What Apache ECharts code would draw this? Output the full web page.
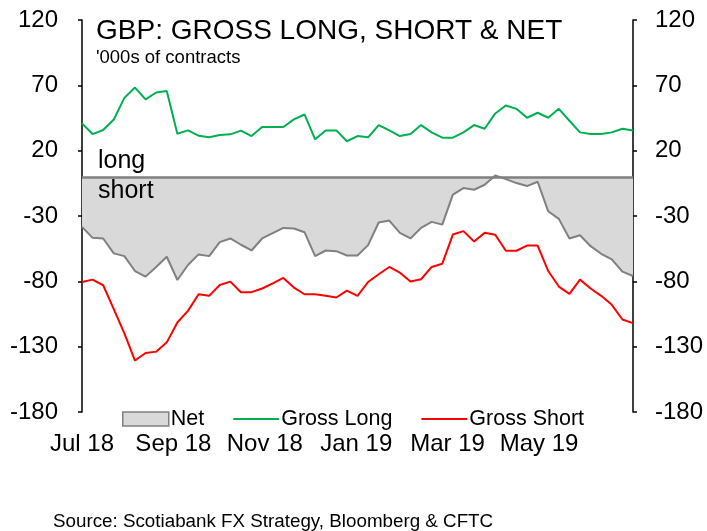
<!DOCTYPE html>
<html>
<head>
<meta charset="utf-8">
<script src="https://cdn.jsdelivr.net/npm/echarts@6/dist/echarts.min.js"></script>
<style>
  html, body { margin: 0; padding: 0; background: #fff; }
  #chart { width: 707px; height: 531px; }
</style>
</head>
<body>
<div id="chart"></div>
<script>
// weekly CFTC positioning, '000s of contracts (Jul 2018 - Jul 2019)
const netPos = [-38.3, -46.7, -47.2, -58.6, -60.7, -72.1, -76.4, -69.1, -61.2, -79.0, -67.5, -59.4, -60.7,
  -50.0, -47.2, -52.0, -56.4, -47.2, -43.1, -39.1, -39.6, -42.4, -60.7, -56.4, -56.9, -60.2, -60.2,
  -52.3, -35.0, -33.5, -42.9, -47.2, -39.1, -34.5, -36.6, -13.7, -8.6, -9.9, -6.1, 1.0,
  -1.8, -4.8, -7.1, -3.8, -26.4, -32.2, -47.2, -44.7, -53.1, -58.9, -63.2, -72.6, -75.9]
const grossLong = [40.9, 32.7, 35.8, 43.9, 60.4, 68.3, 59.2, 64.5, 65.7, 33.0, 35.5, 31.5, 30.2,
  32.0, 32.5, 35.3, 31.2, 38.1, 38.1, 38.1, 43.9, 47.7, 28.7, 35.5, 35.5, 27.2, 31.2,
  30.2, 39.6, 35.5, 31.2, 32.7, 39.6, 34.0, 29.9, 29.9, 34.0, 39.6, 36.8, 48.5,
  54.6, 52.0, 45.2, 49.0, 45.2, 52.0, 42.9, 34.0, 32.7, 32.7, 34.0, 36.8, 35.5]
const grossShort = [-80.5, -78.7, -83.0, -101.3, -119.8, -140.6, -134.8, -133.8, -126.7, -111.5, -102.6, -89.9, -91.1,
  -82.8, -80.2, -88.3, -88.3, -85.5, -81.5, -77.4, -84.8, -89.9, -89.9, -91.1, -92.4, -87.1, -91.1,
  -80.5, -74.6, -69.0, -73.4, -80.2, -78.4, -69.0, -66.5, -44.2, -41.6, -49.5, -42.9, -44.4,
  -56.6, -56.6, -52.6, -52.6, -72.1, -84.0, -89.6, -78.7, -85.5, -91.1, -98.0, -109.2, -112.0]

// x labels every 2 months (~8.63 weeks apart)
const monthLabels = ['Jul 18', 'Sep 18', 'Nov 18', 'Jan 19', 'Mar 19', 'May 19']
const weeksPerLabel = 8.626
const yTicks = [-180, -130, -80, -30, 20, 70, 120]

const toPairs = arr => arr.map((v, i) => [i, v])

const FONT = 'Liberation Sans, Arial, sans-serif'
const LINE_ICON = 'path://M0,0L46,0L46,2L0,2Z'
const chart = echarts.init(document.getElementById('chart'))

const yAxisBase = {
  type: 'value',
  min: -180,
  max: 120,
  axisLine: { show: true, lineStyle: { color: '#000', width: 1.5 } },
  axisTick: { show: true, inside: false, length: 4, customValues: yTicks, lineStyle: { color: '#000', width: 1.5 } },
  splitLine: { show: false },
  axisLabel: { customValues: yTicks, color: '#000', fontSize: 24, fontFamily: FONT }
}

chart.setOption({
  animation: false,
  backgroundColor: '#fff',
  grid: { left: 82, right: 74, top: 20, bottom: 119 },
  legend: {
    left: 117,
    top: 403,
    itemWidth: 46,
    itemHeight: 14,
    itemGap: 29,
    symbolKeepAspect: true,
    textStyle: { color: '#000', fontSize: 21.5, fontFamily: FONT, padding: [0, 0, 0, -3] },
    data: [
      { name: 'Net', icon: 'rect', itemStyle: { color: '#d9d9d9', borderColor: '#808080', borderWidth: 1.5 } },
      { name: 'Gross Long', icon: LINE_ICON, itemStyle: { color: '#00b050', borderWidth: 0 } },
      { name: 'Gross Short', icon: LINE_ICON, itemStyle: { color: '#ff0000', borderWidth: 0 } }
    ]
  },
  xAxis: {
    type: 'value',
    min: 0,
    max: 52,
    interval: weeksPerLabel,
    axisLine: { show: false, onZero: false },
    axisTick: { show: false },
    splitLine: { show: false },
    axisLabel: {
      margin: 20,
      color: '#000',
      fontSize: 24,
      fontFamily: FONT,
      showMaxLabel: false,
      formatter: v => monthLabels[Math.round(v / weeksPerLabel)] || ''
    }
  },
  yAxis: [
    Object.assign({}, yAxisBase, { position: 'left', axisLabel: Object.assign({}, yAxisBase.axisLabel, { margin: 24 }) }),
    Object.assign({}, yAxisBase, { position: 'right', axisLabel: Object.assign({}, yAxisBase.axisLabel, { margin: 22 }) })
  ],
  graphic: [
    { type: 'text', z: 100, left: 96, top: 17, style: { text: 'GBP: GROSS LONG, SHORT & NET', fontSize: 28, fontFamily: FONT, fill: '#000' } },
    { type: 'text', z: 100, left: 96, top: 48, style: { text: "'000s of contracts", fontSize: 18.5, fontFamily: FONT, fill: '#000' } },
    { type: 'text', z: 100, left: 98, top: 149, style: { text: 'long', fontSize: 25, fontFamily: FONT, fill: '#000' } },
    { type: 'text', z: 100, left: 98, top: 179, style: { text: 'short', fontSize: 25, fontFamily: FONT, fill: '#000' } },
    { type: 'text', z: 100, left: 53, top: 512, style: { text: 'Source: Scotiabank FX Strategy, Bloomberg & CFTC', fontSize: 18.8, fontFamily: FONT, fill: '#000' } }
  ],
  series: [
    {
      name: 'Net',
      type: 'line',
      data: toPairs(netPos),
      symbol: 'none',
      lineStyle: { color: '#808080', width: 2 },
      itemStyle: { color: '#d9d9d9' },
      areaStyle: { color: '#d9d9d9', opacity: 1, origin: 0 },
      markLine: {
        silent: true,
        symbol: 'none',
        label: { show: false },
        lineStyle: { color: '#808080', width: 2.5, type: 'solid' },
        data: [{ yAxis: 0 }]
      },
      z: 1
    },
    {
      name: 'Gross Long',
      type: 'line',
      data: toPairs(grossLong),
      symbol: 'none',
      lineStyle: { color: '#00b050', width: 2 },
      itemStyle: { color: '#00b050' },
      z: 3
    },
    {
      name: 'Gross Short',
      type: 'line',
      data: toPairs(grossShort),
      symbol: 'none',
      lineStyle: { color: '#ff0000', width: 2 },
      itemStyle: { color: '#ff0000' },
      z: 3
    }
  ]
})
</script>
</body>
</html>
